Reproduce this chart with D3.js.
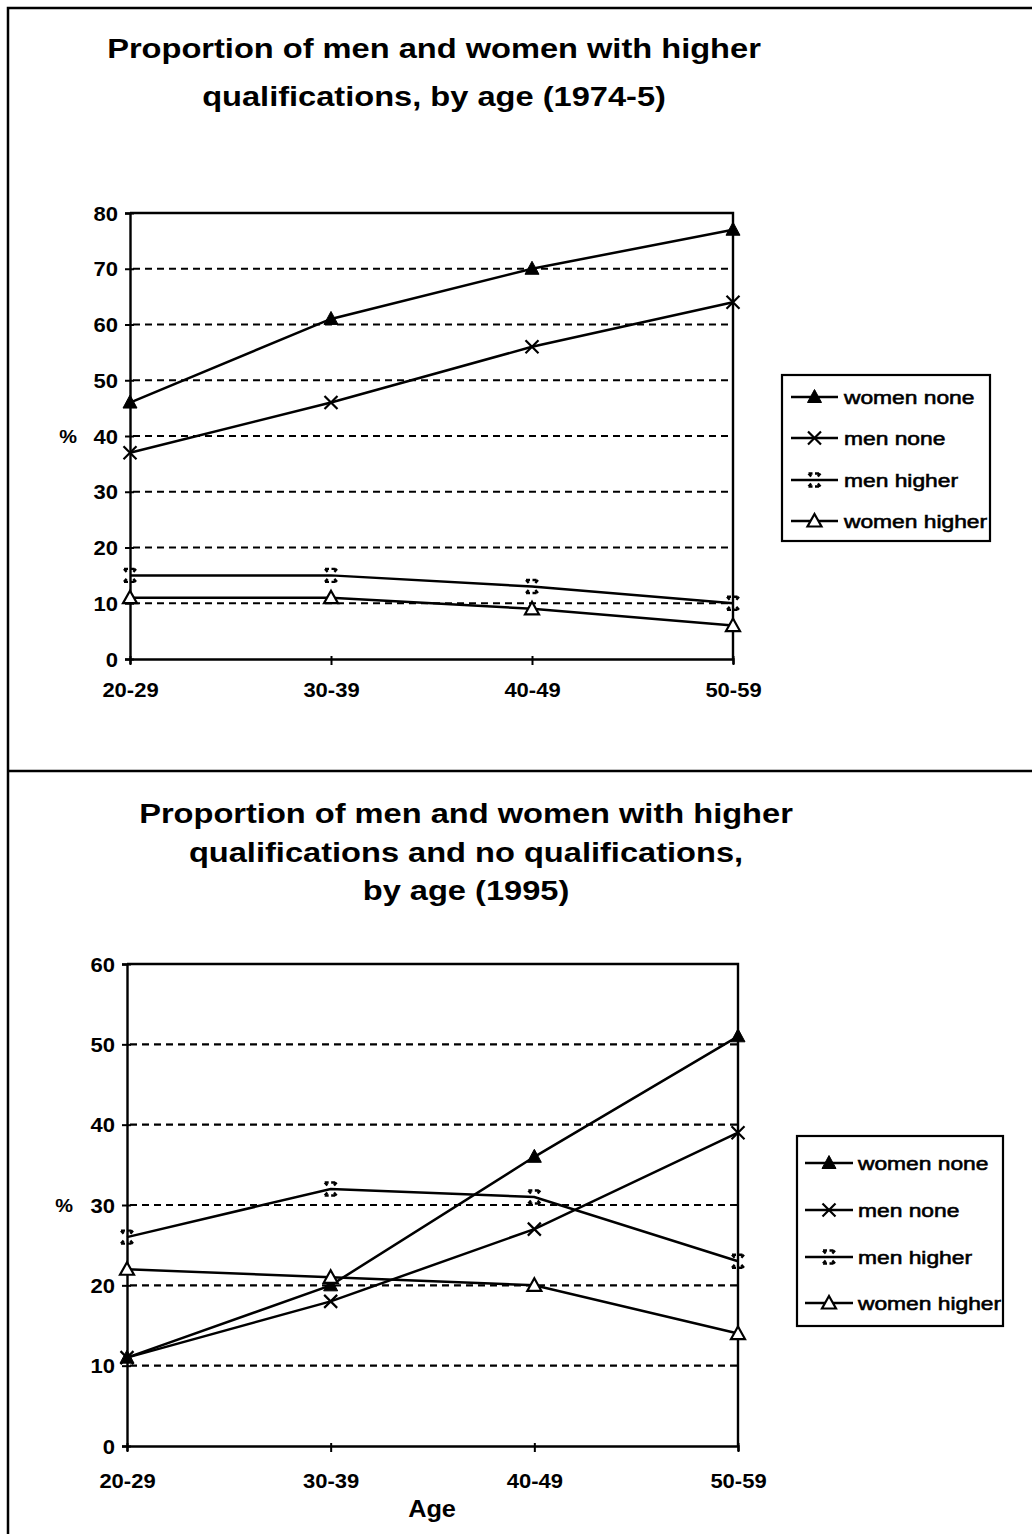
<!DOCTYPE html>
<html>
<head>
<meta charset="utf-8">
<script src="https://cdn.jsdelivr.net/npm/d3@7"></script>
<style>
  html, body { margin: 0; padding: 0; background: #fff; }
  svg { display: block; }
  text { font-family: "Liberation Sans", Arial, Helvetica, sans-serif; fill: #000; }
</style>
</head>
<body>
<svg id="chart" width="1032" height="1534"></svg>
<script>
// ---- data ----
const ageGroups = ["20-29", "30-39", "40-49", "50-59"];
const seriesNames = ["women none", "men none", "men higher", "women higher"];

// 1974-5 survey (%)
const womenNone1975 = [46, 61, 70, 77];
const menNone1975 = [37, 46, 56, 64];
const menHigher1975 = [15, 15, 13, 10];
const womenHigher1975 = [11, 11, 9, 6];
const yTicks1975 = [0, 10, 20, 30, 40, 50, 60, 70, 80];

// 1995 survey (%)
const womenNone1995 = [11, 20, 36, 51];
const menNone1995 = [11, 18, 27, 39];
const menHigher1995 = [26, 32, 31, 23];
const womenHigher1995 = [22, 21, 20, 14];
const yTicks1995 = [0, 10, 20, 30, 40, 50, 60];

const titles1975 = ["Proportion of men and women with higher", "qualifications, by age (1974-5)"];
const titles1995 = ["Proportion of men and women with higher", "qualifications and no qualifications,", "by age (1995)"];

// ---- drawing ----
const svg = d3.select("#chart");
const INK = "#000";

// text with a slight horizontal widening, like the printed typeface
function wideText(parent, x, y, str, o) {
  const t = parent.append("text")
    .attr("transform", `translate(${x},${y}) scale(${o.sx || 1.15},1)`)
    .attr("text-anchor", o.anchor || "start")
    .attr("font-size", o.size)
    .attr("font-weight", o.weight || "normal")
    .text(str);
  if (o.heavy) t.attr("stroke", INK).attr("stroke-width", o.heavy);
  return t;
}

// marker shapes, one per series
function drawMarker(g, kind, x, y) {
  const at = `translate(${x},${y})`;
  if (kind === 0) {
    g.append("path").attr("d", "M0,-7.5L7,5.5L-7,5.5Z").attr("transform", at)
      .attr("fill", INK).attr("stroke", INK).attr("stroke-width", 1);
  } else if (kind === 1) {
    g.append("path").attr("d", "M-6.5,-6.5L6.5,6.5M-6.5,6.5L6.5,-6.5").attr("transform", at)
      .attr("fill", "none").attr("stroke", INK).attr("stroke-width", 2.2);
  } else if (kind === 2) {
    // hollow hourglass with open waist
    g.append("path")
      .attr("d", "M-6,-6.5H6M-6,-6.5L-2,-2M6,-6.5L2,-2M-6,6.5H6M-6,6.5L-2,2M6,6.5L2,2")
      .attr("transform", at)
      .attr("fill", "none").attr("stroke", INK).attr("stroke-width", 2.4)
      .attr("stroke-dasharray", "4,2.5");
  } else {
    g.append("path").attr("d", "M0,-7L7,5.5L-7,5.5Z").attr("transform", at)
      .attr("fill", "#fff").attr("stroke", INK).attr("stroke-width", 2.2);
  }
}

function drawPanel(p) {
  const g = svg.append("g");
  const x = d3.scalePoint().domain(ageGroups).range([p.x0, p.x1]).padding(0);
  const y = d3.scaleLinear().domain([0, d3.max(p.yTicks)]).range([p.yBot, p.yTop]);

  // title
  p.titles.forEach((t, i) => {
    wideText(g, p.titleX, p.titleY[i], t, { size: 28, weight: "bold", anchor: "middle", sx: 1.165 });
  });

  // dashed gridlines
  g.append("g").selectAll("line")
    .data(p.yTicks.filter(v => v > 0 && v < d3.max(p.yTicks)))
    .join("line")
    .attr("x1", p.x0 + 3).attr("x2", p.x1)
    .attr("y1", d => y(d)).attr("y2", d => y(d))
    .attr("stroke", INK).attr("stroke-width", 2.2)
    .attr("stroke-dasharray", "7,5");

  // top and right frame of the plot area
  g.append("path")
    .attr("d", `M${p.x0},${p.yTop}H${p.x1}V${p.yBot}`)
    .attr("fill", "none").attr("stroke", INK).attr("stroke-width", 2.4);

  // y axis
  const ya = g.append("g").attr("transform", `translate(${p.x0},0)`)
    .call(d3.axisLeft(y).tickValues(p.yTicks).tickSize(5).tickPadding(0));
  ya.select(".domain").attr("stroke", INK).attr("stroke-width", 2.4);
  ya.selectAll(".tick line").attr("x1", 4).attr("x2", -5).attr("stroke", INK).attr("stroke-width", 2);
  ya.selectAll(".tick text")
    .attr("x", -12 / 1.1).attr("dy", "0.36em")
    .attr("transform", "scale(1.1,1)")
    .attr("font-size", 20).attr("font-weight", "bold")
    .attr("font-family", "Liberation Sans, Arial, sans-serif").attr("fill", INK);

  // x axis
  const xa = g.append("g").attr("transform", `translate(0,${p.yBot})`)
    .call(d3.axisBottom(x).tickSize(5).tickPadding(0));
  xa.select(".domain").attr("stroke", INK).attr("stroke-width", 2.4);
  xa.selectAll(".tick line").attr("y1", -3).attr("y2", 6).attr("stroke", INK).attr("stroke-width", 2);
  xa.selectAll(".tick text")
    .attr("y", p.xLabelY).attr("dy", null)
    .attr("transform", "scale(1.1,1)")
    .attr("font-size", 20).attr("font-weight", "bold")
    .attr("font-family", "Liberation Sans, Arial, sans-serif").attr("fill", INK);

  // "%" axis label
  wideText(g, p.pctX, y(p.pctAt) + 7, "%", { size: 19, weight: "bold", anchor: "middle", sx: 1.05 });

  if (p.xTitle) {
    wideText(g, p.xTitle.x, p.xTitle.y, p.xTitle.text, { size: 23, weight: "bold", anchor: "middle", sx: 1.1 });
  }

  // series lines and markers
  const line = d3.line().x((d, i) => x(ageGroups[i])).y(d => y(d));
  p.series.forEach(vals => {
    g.append("path").datum(vals).attr("d", line)
      .attr("fill", "none").attr("stroke", INK).attr("stroke-width", 2.5);
  });
  p.series.forEach((vals, k) => {
    vals.forEach((v, i) => drawMarker(g, k, x(ageGroups[i]), y(v)));
  });

  // legend
  const L = p.legend;
  g.append("rect").attr("x", L.x).attr("y", L.y).attr("width", L.w).attr("height", L.h)
    .attr("fill", "#fff").attr("stroke", INK).attr("stroke-width", 2.2);
  seriesNames.forEach((name, k) => {
    const cy = L.rows[k];
    g.append("line").attr("x1", L.lx0).attr("x2", L.lx1).attr("y1", cy).attr("y2", cy)
      .attr("stroke", INK).attr("stroke-width", 2.5);
    drawMarker(g, k, (L.lx0 + L.lx1) / 2, cy);
    wideText(g, L.tx, cy + 7, name, { size: 19, sx: 1.2, heavy: 0.6 });
  });
}

// outer frame and divider
svg.append("path")
  .attr("d", "M8,1534V8H1032M8,771H1032")
  .attr("fill", "none").attr("stroke", INK).attr("stroke-width", 2.5);

drawPanel({
  titles: titles1975, titleX: 434, titleY: [58, 106],
  x0: 130, x1: 733, yTop: 213, yBot: 659, yTicks: yTicks1975,
  xLabelY: 38, pctX: 68, pctAt: 40,
  series: [womenNone1975, menNone1975, menHigher1975, womenHigher1975],
  legend: { x: 782, y: 375, w: 208, h: 166, rows: [397, 438, 480, 521], lx0: 791, lx1: 838, tx: 844 }
});

drawPanel({
  titles: titles1995, titleX: 466, titleY: [823, 862, 900],
  x0: 127, x1: 738, yTop: 964, yBot: 1446, yTicks: yTicks1995,
  xLabelY: 42, pctX: 64, pctAt: 30,
  xTitle: { x: 432, y: 1517, text: "Age" },
  series: [womenNone1995, menNone1995, menHigher1995, womenHigher1995],
  legend: { x: 797, y: 1136, w: 206, h: 190, rows: [1163, 1210, 1257, 1303], lx0: 805, lx1: 853, tx: 858 }
});
</script>
</body>
</html>
